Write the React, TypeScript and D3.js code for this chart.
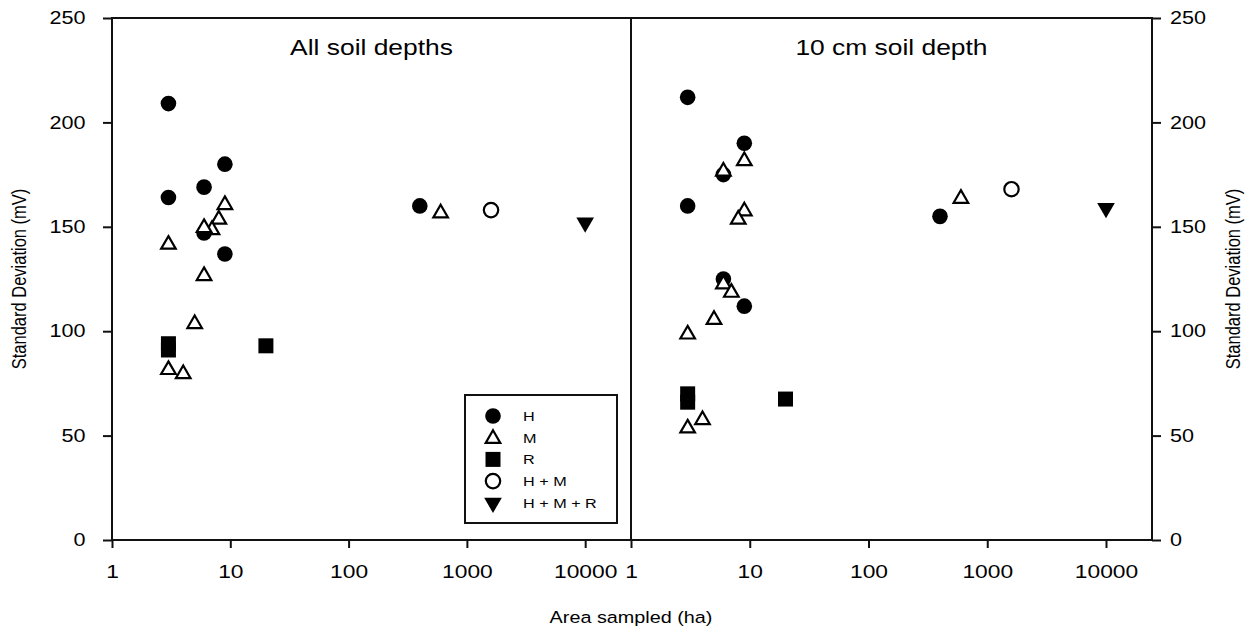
import React, { useEffect, useRef } from "react";
import * as d3 from "d3";

// left panel: all soil depths
const allH_x = [3, 3, 6, 9, 6, 9, 400];
const allH_y = [209, 164, 169, 180, 147, 137, 160];
const allM_x = [3, 6, 5, 3, 4, 9, 8, 7, 6, 600];
const allM_y = [142, 127, 104, 82, 80, 161, 154, 149, 150, 157];
const allR_x = [3, 3, 20];
const allR_y = [94, 91, 93];
const allHM_x = [1600];
const allHM_y = [158];
const allHMR_x = [10000];
const allHMR_y = [152];

// right panel: 10 cm soil depth
const d10H_x = [3, 9, 6, 3, 6, 9, 400];
const d10H_y = [212, 190, 175, 160, 125, 112, 155];
const d10M_x = [9, 6, 9, 8, 6, 7, 5, 3, 4, 3, 600];
const d10M_y = [182, 177, 158, 154, 123, 119, 106, 99, 58, 54, 164];
const d10R_x = [3, 3, 20];
const d10R_y = [70, 66, 67.5];
const d10HM_x = [1600];
const d10HM_y = [168];
const d10HMR_x = [10000];
const d10HMR_y = [159];

const yTicks = [0, 50, 100, 150, 200, 250];
const xTicks = [1, 10, 100, 1000, 10000];
const legendLabels = ["H", "M", "R", "H + M", "H + M + R"];
const panelTitles = ["All soil depths", "10 cm soil depth"];

const W = 1254;
const H = 630;
const left = 112;
const mid = 631;
const right = 1152;
const top = 18;
const bottom = 540;
const font = "'Liberation Sans', Arial, Helvetica, sans-serif";
// the original figure's lettering is a bit wide, so text gets stretched sideways
const sx = 1.2;

const pts = (xs, ys) => xs.map((x, i) => ({ x, y: ys[i] }));

// H filled circle, M open triangle, R filled square, HM open circle, HMR filled down triangle
function drawMarker(g, kind, px, py) {
  if (kind === "H") {
    g.append("circle").attr("cx", px).attr("cy", py).attr("r", 7.8).attr("fill", "#000");
  } else if (kind === "M") {
    g.append("path")
      .attr("transform", `translate(${px},${py + 1})`)
      .attr("d", d3.symbol().type(d3.symbolTriangle).size(92)())
      .attr("fill", "#fff")
      .attr("stroke", "#000")
      .attr("stroke-width", 2.2);
  } else if (kind === "R") {
    g.append("path")
      .attr("transform", `translate(${px},${py})`)
      .attr("d", d3.symbol().type(d3.symbolSquare).size(225)())
      .attr("fill", "#000");
  } else if (kind === "HM") {
    g.append("circle")
      .attr("cx", px).attr("cy", py).attr("r", 7.2)
      .attr("fill", "#fff").attr("stroke", "#000").attr("stroke-width", 2.2);
  } else {
    g.append("path")
      .attr("transform", `translate(${px},${py}) rotate(180)`)
      .attr("d", d3.symbol().type(d3.symbolTriangle).size(135)())
      .attr("fill", "#000");
  }
}

function label(svg, x, y, size, txt, anchor = "middle", rot = 0) {
  svg.append("text")
    .attr("transform", `translate(${x},${y}) scale(${sx},1) rotate(${rot})`)
    .attr("text-anchor", anchor)
    .attr("font-family", font).attr("font-size", size).attr("fill", "#000")
    .text(txt);
}

export default function App() {
  const ref = useRef(null);

  useEffect(() => {
    const svg = d3.select(ref.current);
    svg.selectAll("*").remove();

    const y = d3.scaleLinear().domain([0, 250]).range([bottom, top]);
    const xL = d3.scaleLog().domain([1, 24400]).range([left, mid]);
    const xR = d3.scaleLog().domain([1, 24400]).range([mid, right]);

    const panels = [
      {
        x: xL,
        title: panelTitles[0],
        series: [
          ["H", pts(allH_x, allH_y)],
          ["M", pts(allM_x, allM_y)],
          ["R", pts(allR_x, allR_y)],
          ["HM", pts(allHM_x, allHM_y)],
          ["HMR", pts(allHMR_x, allHMR_y)],
        ],
      },
      {
        x: xR,
        title: panelTitles[1],
        series: [
          ["H", pts(d10H_x, d10H_y)],
          ["M", pts(d10M_x, d10M_y)],
          ["R", pts(d10R_x, d10R_y)],
          ["HM", pts(d10HM_x, d10HM_y)],
          ["HMR", pts(d10HMR_x, d10HMR_y)],
        ],
      },
    ];

    // frame + divider
    svg.append("rect")
      .attr("x", left).attr("y", top)
      .attr("width", right - left).attr("height", bottom - top)
      .attr("fill", "none").attr("stroke", "#111").attr("stroke-width", 2);
    svg.append("line")
      .attr("x1", mid).attr("x2", mid).attr("y1", top).attr("y2", bottom)
      .attr("stroke", "#111").attr("stroke-width", 2);

    // y axes, left and right
    const yl = svg.append("g")
      .attr("transform", `translate(${left},0)`)
      .call(d3.axisLeft(y).tickValues(yTicks).tickSize(9).tickPadding(13).tickFormat(d3.format("d")));
    const yr = svg.append("g")
      .attr("transform", `translate(${right},0)`)
      .call(d3.axisRight(y).tickValues(yTicks).tickSize(9).tickPadding(6).tickFormat(d3.format("d")));
    [yl, yr].forEach((g) => {
      g.select(".domain").remove();
      g.selectAll("line").attr("stroke", "#111").attr("stroke-width", 2);
      g.selectAll("text")
        .attr("transform", `scale(${sx},1)`)
        .attr("font-family", font).attr("font-size", 18).attr("fill", "#000");
    });

    panels.forEach((p) => {
      const xa = svg.append("g")
        .attr("transform", `translate(0,${bottom})`)
        .call(d3.axisBottom(p.x).tickValues(xTicks).tickSize(8).tickPadding(17).tickFormat(d3.format("d")));
      xa.select(".domain").remove();
      xa.selectAll("line").attr("stroke", "#111").attr("stroke-width", 2);
      xa.selectAll("text")
        .attr("transform", `scale(${sx},1)`)
        .attr("font-family", font).attr("font-size", 19).attr("fill", "#000");

      const [r0, r1] = p.x.range();
      label(svg, (r0 + r1) / 2, 55, 22, p.title);

      const g = svg.append("g");
      p.series.forEach(([kind, data]) => {
        data.forEach((d) => drawMarker(g, kind, p.x(d.x), y(d.y)));
      });
    });

    // axis titles
    label(svg, 26, (top + bottom) / 2, 16.5, "Standard Deviation (mV)", "middle", -90);
    label(svg, 1240, (top + bottom) / 2, 16.5, "Standard Deviation (mV)", "middle", -90);
    label(svg, mid, 623, 16.5, "Area sampled (ha)");

    // legend
    const lg = svg.append("g");
    lg.append("rect")
      .attr("x", 465).attr("y", 395).attr("width", 152).attr("height", 128)
      .attr("fill", "#fff").attr("stroke", "#111").attr("stroke-width", 2);
    const kinds = ["H", "M", "R", "HM", "HMR"];
    kinds.forEach((k, i) => {
      const cy = 416 + i * 21.7;
      drawMarker(lg, k, 493, cy);
      label(lg, 523, cy + 5, 13.5, legendLabels[i], "start");
    });
  }, []);

  return (
    <svg
      ref={ref}
      width={W}
      height={H}
      style={{ position: "absolute", left: 0, top: 0, background: "#fff" }}
    />
  );
}
